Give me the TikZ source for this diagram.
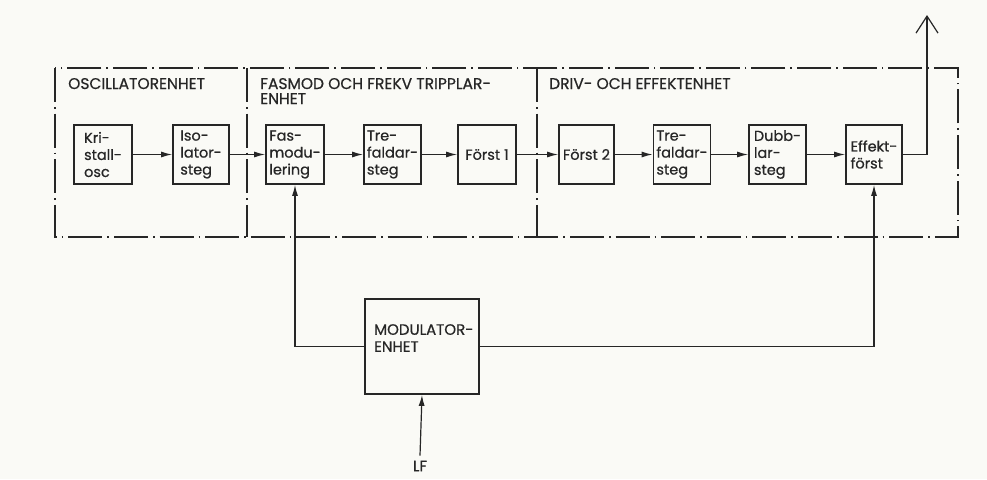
\documentclass[tikz,border=0pt]{standalone}
\usepackage{fontspec}
\setmainfont{Poppins}
\newfontfamily\diagfont{Poppins}[FakeBold=0.6]
\usetikzlibrary{arrows.meta}
\definecolor{ink}{HTML}{262626}
\definecolor{paper}{HTML}{FAFAF6}
\tikzset{
  blk/.style={draw=ink, line width=1.7pt, minimum height=59pt, inner xsep=3pt, inner ysep=0pt,
    align=left, font=\diagfont\fontsize{14.5}{17}\selectfont, text=ink},
  conn/.style={draw=ink, line width=1.2pt, -{Latex[length=11pt,width=6pt]}},
  wire/.style={draw=ink, line width=1.2pt},
  frame/.style={draw=ink, line width=1.4pt, dash pattern=on 34pt off 5pt on 1.6pt off 5pt},
  unitlbl/.style={font=\diagfont\fontsize{15.5}{14}\selectfont, text=ink, inner sep=0pt, anchor=base west},
}
\begin{document}
\begin{tikzpicture}[x=1pt,y=-1pt]
\useasboundingbox[fill=paper] (0,0) rectangle (987,479);
% frame
\draw[frame] (55,68) rectangle (958,237);
\draw[frame] (247,68) -- (247,237);
\draw[frame] (537,68) -- (537,237);
% unit labels
\node[unitlbl] (uosc) at (68,89) {OSCILLATORENHET};
\node[unitlbl] (ufasA) at (260,89) {FASMOD OCH FREKV TRIPPLAR-};
\node[unitlbl] (ufasB) at (260,104) {ENHET};
\node[unitlbl] (udriv) at (549,89) {DRIV- OCH EFFEKTENHET};
% blocks
\node[blk, minimum width=58pt] (kri) at (103,154.5) {Kri-\\stall-\\osc};
\node[blk, minimum width=56pt] (iso) at (201,154.5) {Iso-\\lator-\\steg};
\node[blk, minimum width=58pt] (fas) at (295,154.5) {Fas-\\modu-\\lering};
\node[blk, minimum width=57pt] (tre1) at (392.5,154.5) {Tre-\\faldar-\\steg};
\node[blk, minimum width=58pt] (f1) at (487,154.5) {Först 1};
\node[blk, minimum width=55pt] (f2) at (586.5,154.5) {Först 2};
\node[blk, minimum width=56pt] (tre2) at (682,154.5) {Tre-\\faldar-\\steg};
\node[blk, minimum width=57pt] (dubb) at (777.5,154.5) {Dubb-\\lar-\\steg};
\node[blk, minimum width=56pt] (eff) at (874,154.5) {Effekt-\\först};
% modulator
\node[blk, minimum width=114pt, minimum height=95pt] (mod) at (422,346.5) {};
\node[font=\diagfont\fontsize{15}{17}\selectfont, text=ink, align=left, inner sep=0pt, anchor=north west] (modtxt) at (374,324) {MODULATOR-\\ENHET};
\node[font=\diagfont\fontsize{15}{14}\selectfont, text=ink, inner sep=1pt] (lf) at (420,466) {LF};
\coordinate (out) at (927,15);
% chain
\draw[conn] (kri) -- (iso);
\draw[conn] (iso) -- (fas);
\draw[conn] (fas) -- (tre1);
\draw[conn] (tre1) -- (f1);
\draw[conn] (f1) -- (f2);
\draw[conn] (f2) -- (tre2);
\draw[conn] (tre2) -- (dubb);
\draw[conn] (dubb) -- (eff);
\draw[wire, -{Straight Barb[length=17pt,width=22pt,line width=1.2pt]}] (eff.east) -| (out);
% modulator connections
\draw[conn] (mod.west) -| (fas.south);
\draw[conn] (mod.east) -| (eff.south);
\draw[conn] (lf.north) ++(0,-4) -- (mod.south);
\end{tikzpicture}
\end{document}
